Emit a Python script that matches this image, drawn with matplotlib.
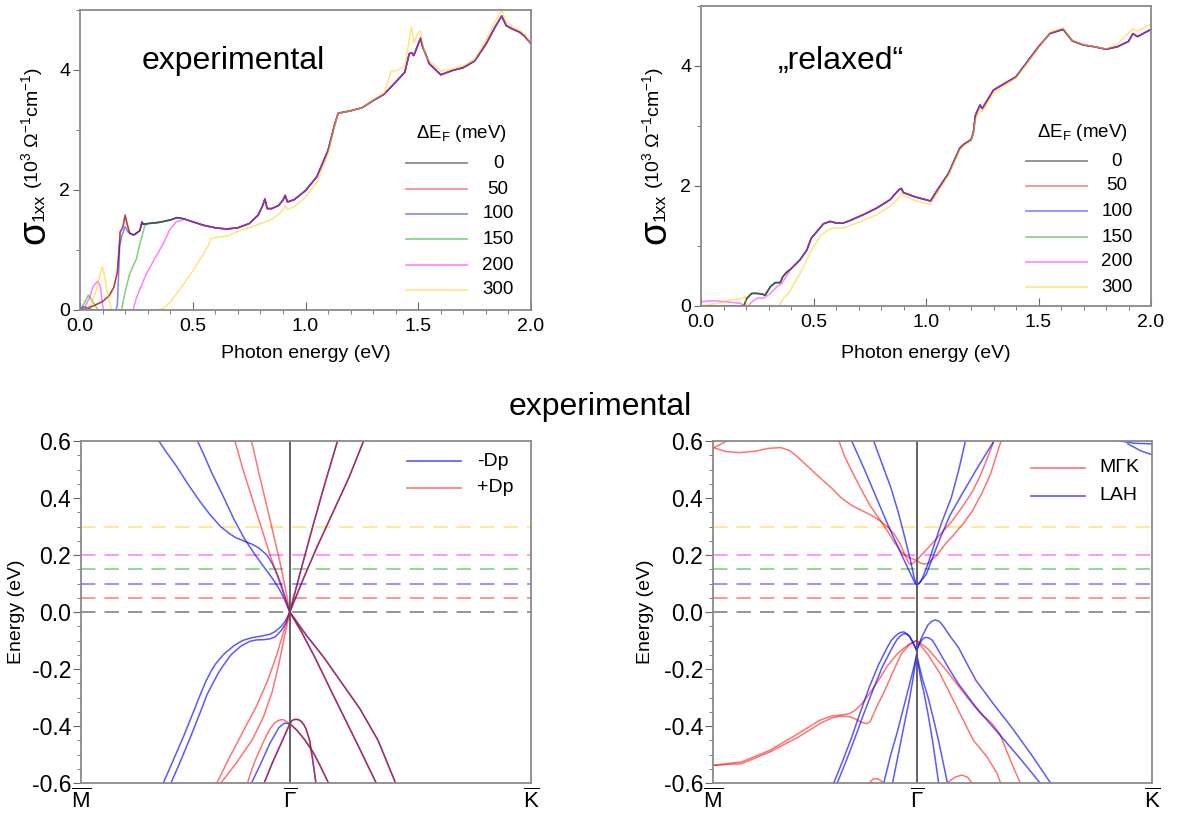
import matplotlib
matplotlib.use('Agg')
import matplotlib.pyplot as plt
from matplotlib.lines import Line2D
from matplotlib.ticker import MultipleLocator

plt.rcParams['font.family'] = ['Liberation Sans', 'DejaVu Sans']
plt.rcParams['mathtext.fontset'] = 'custom'
plt.rcParams['mathtext.rm'] = 'Liberation Sans'
plt.rcParams['mathtext.it'] = 'Liberation Sans:italic'
plt.rcParams['mathtext.bf'] = 'Liberation Sans:bold'
plt.rcParams['axes.unicode_minus'] = False

W, H = 1179, 816

# ---------------------------------------------------------------- optical conductivity
shift_labels = ['0', '50', '100', '150', '200', '300']
shift_colors = ['black', 'red', 'blue', '#00a000', 'magenta', '#ffc800']
ef_levels = [0.0, 0.05, 0.10, 0.15, 0.20, 0.30]

# experimental structure: shared part above the onsets (0/50/100 meV)
tl_hi_E = [0.30, 0.35, 0.40, 0.43, 0.46, 0.50, 0.55, 0.60, 0.65, 0.70, 0.75, 0.79, 0.81,
           0.82, 0.83, 0.85, 0.88, 0.90, 0.91, 0.92, 0.95, 1.00, 1.05, 1.10, 1.13, 1.145,
           1.20, 1.25, 1.30, 1.35, 1.40, 1.44, 1.46, 1.47, 1.48, 1.50, 1.51, 1.52, 1.55,
           1.60, 1.65, 1.70, 1.75, 1.80, 1.84, 1.87, 1.89, 1.92, 1.95, 1.97, 2.00]
tl_hi_s = [1.44, 1.46, 1.50, 1.54, 1.52, 1.47, 1.41, 1.37, 1.35, 1.37, 1.44, 1.58, 1.74,
           1.85, 1.69, 1.69, 1.74, 1.83, 1.91, 1.80, 1.84, 1.99, 2.22, 2.66, 3.10, 3.28,
           3.32, 3.37, 3.49, 3.60, 3.80, 3.96, 4.27, 4.29, 4.24, 4.43, 4.53, 4.38, 4.10,
           3.92, 3.99, 4.04, 4.15, 4.43, 4.71, 4.90, 4.74, 4.68, 4.63, 4.57, 4.44]
# low-energy onsets
tl_lo0_E = [0.00, 0.03, 0.06, 0.10, 0.13, 0.15, 0.165, 0.172, 0.178, 0.19, 0.20, 0.21,
            0.22, 0.24, 0.265, 0.275, 0.28]
tl_lo0_s = [0.0, 0.03, 0.07, 0.14, 0.24, 0.38, 0.62, 0.95, 1.30, 1.38, 1.58, 1.42,
            1.28, 1.25, 1.32, 1.47, 1.43]
tl_lo100_E = [0.00, 0.015, 0.03, 0.06, 0.16, 0.166, 0.176, 0.184, 0.20, 0.213, 0.235,
              0.265, 0.275, 0.28]
tl_lo100_s = [0.0, 0.06, 0.04, 0.0, 0.0, 0.1, 1.05, 1.22, 1.39, 1.30, 1.25, 1.32, 1.46, 1.43]
tl_lo150_E = [0.00, 0.02, 0.037, 0.06, 0.08, 0.184, 0.20, 0.22, 0.25, 0.265, 0.28, 0.287]
tl_lo150_s = [0.0, 0.12, 0.25, 0.12, 0.0, 0.0, 0.3, 0.6, 0.85, 1.1, 1.3, 1.4]
tl_lo200_E = [0.00, 0.022, 0.044, 0.059, 0.078, 0.091, 0.099, 0.105, 0.235, 0.25, 0.294,
              0.338, 0.368, 0.397, 0.426, 0.456]
tl_lo200_s = [0.0, 0.05, 0.22, 0.40, 0.48, 0.39, 0.1, 0.0, 0.0, 0.2, 0.6, 0.9, 1.1, 1.33,
              1.47, 1.50]
tl_300_E = [0.00, 0.03, 0.05, 0.07, 0.09, 0.10, 0.11, 0.12, 0.14, 0.34, 0.37, 0.40, 0.45,
            0.50, 0.55, 0.57, 0.58, 0.60, 0.65, 0.70, 0.75, 0.80, 0.85, 0.88, 0.90, 0.91,
            0.92, 0.95, 1.00, 1.05, 1.10, 1.13, 1.145, 1.20, 1.25, 1.30, 1.35, 1.38, 1.40,
            1.44, 1.46, 1.47, 1.48, 1.50, 1.51, 1.53, 1.55, 1.60, 1.65, 1.70, 1.75, 1.80,
            1.84, 1.87, 1.89, 1.92, 1.95, 1.97, 2.00]
tl_300_s = [0.0, 0.02, 0.1, 0.3, 0.6, 0.72, 0.55, 0.3, 0.0, 0.0, 0.03, 0.13, 0.38,
            0.65, 0.95, 1.08, 1.19, 1.21, 1.23, 1.31, 1.37, 1.44, 1.51, 1.59, 1.67, 1.74,
            1.68, 1.72, 1.88, 2.12, 2.60, 3.08, 3.28, 3.32, 3.37, 3.50, 3.62, 3.98, 3.99,
            4.05, 4.50, 4.72, 4.45, 4.62, 4.65, 4.25, 4.15, 3.98, 4.02, 4.07, 4.18, 4.50,
            4.80, 5.00, 4.80, 4.72, 4.66, 4.60, 4.45]

# relaxed structure
tr_hi_E = [0.40, 0.44, 0.47, 0.49, 0.515, 0.544, 0.574, 0.604, 0.63, 0.66, 0.72, 0.78,
           0.84, 0.88, 0.89, 0.90, 0.95, 1.00, 1.02, 1.05, 1.10, 1.15, 1.17, 1.20, 1.21,
           1.22, 1.24, 1.25, 1.30, 1.35, 1.40, 1.45, 1.50, 1.55, 1.60, 1.61, 1.65, 1.70,
           1.75, 1.80, 1.85, 1.90, 1.92, 1.94, 2.00]
tr_hi_s = [0.62, 0.77, 0.93, 1.13, 1.24, 1.37, 1.41, 1.38, 1.38, 1.42, 1.52, 1.63, 1.77,
           1.94, 1.96, 1.89, 1.82, 1.77, 1.75, 1.93, 2.21, 2.63, 2.70, 2.77, 2.88, 3.18,
           3.35, 3.29, 3.60, 3.71, 3.82, 4.07, 4.32, 4.54, 4.60, 4.61, 4.42, 4.35, 4.32,
           4.28, 4.32, 4.41, 4.54, 4.49, 4.61]
tr_lo0_E = [0.0, 0.19, 0.204, 0.226, 0.248, 0.27, 0.285, 0.308, 0.33, 0.352, 0.364, 0.38]
tr_lo0_s = [0.0, 0.0, 0.13, 0.21, 0.21, 0.20, 0.18, 0.32, 0.39, 0.39, 0.49, 0.56]
tr_lo200_E = [0.0, 0.056, 0.175, 0.19, 0.21, 0.226, 0.25, 0.278, 0.308, 0.337, 0.36, 0.38]
tr_lo200_s = [0.07, 0.09, 0.045, 0.0, 0.0, 0.07, 0.13, 0.13, 0.21, 0.32, 0.38, 0.50]
tr_300_E = [0.0, 0.07, 0.13, 0.19, 0.195, 0.204, 0.345, 0.367, 0.39, 0.41, 0.44, 0.47,
            0.50, 0.53, 0.56, 0.59, 0.633, 0.69, 0.78, 0.84, 0.88, 0.89, 0.90, 0.95, 1.00,
            1.02, 1.05, 1.10, 1.15, 1.17, 1.20, 1.21, 1.22, 1.24, 1.25, 1.30, 1.35, 1.40,
            1.45, 1.50, 1.55, 1.60, 1.61, 1.65, 1.70, 1.75, 1.80, 1.85, 1.88, 1.92, 1.94, 2.00]
tr_300_s = [0.0, 0.045, 0.10, 0.13, 0.16, 0.0, 0.0, 0.13, 0.21, 0.35, 0.54, 0.77, 0.99,
            1.16, 1.26, 1.30, 1.30, 1.38, 1.52, 1.66, 1.80, 1.88, 1.84, 1.76, 1.71, 1.70,
            1.88, 2.18, 2.60, 2.68, 2.75, 2.85, 3.10, 3.27, 3.24, 3.55, 3.68, 3.80, 4.05,
            4.30, 4.56, 4.63, 4.63, 4.43, 4.36, 4.32, 4.29, 4.36, 4.48, 4.62, 4.58, 4.70]

# ---------------------------------------------------------------- band structures
kpath_ticks = [0.0, 0.464, 1.0]
kpath_labels = [r'$\overline{\rm M}$', r'$\overline{\Gamma}$', r'$\overline{\rm K}$']

# experimental: -Dp only, +Dp only, and bands where both coincide
bl_minus = [
    ([0.259, 0.275, 0.29, 0.316, 0.34, 0.364, 0.385, 0.40, 0.415, 0.427, 0.44, 0.45, 0.464],
     [0.6, 0.545, 0.49, 0.406, 0.325, 0.255, 0.205, 0.172, 0.14, 0.114, 0.082, 0.052, 0.0]),
    ([0.173, 0.19, 0.212, 0.235, 0.261, 0.285, 0.31, 0.33, 0.345, 0.364, 0.38, 0.395, 0.413,
      0.425, 0.435, 0.445, 0.453, 0.464],
     [0.6, 0.56, 0.512, 0.455, 0.395, 0.345, 0.30, 0.275, 0.26, 0.248, 0.238, 0.225, 0.2,
      0.17, 0.137, 0.095, 0.055, 0.0]),
    ([0.183, 0.205, 0.228, 0.25, 0.265, 0.277, 0.29, 0.30, 0.318, 0.34, 0.359, 0.38, 0.399,
      0.42, 0.432, 0.445, 0.455, 0.464],
     [-0.6, -0.52, -0.436, -0.35, -0.29, -0.245, -0.205, -0.18, -0.147, -0.118, -0.10,
      -0.09, -0.085, -0.078, -0.068, -0.05, -0.03, 0.0]),
    ([0.2, 0.222, 0.244, 0.268, 0.28, 0.293, 0.305, 0.315, 0.334, 0.355, 0.375, 0.39, 0.407,
      0.42, 0.432, 0.445, 0.455, 0.464],
     [-0.6, -0.52, -0.436, -0.34, -0.29, -0.25, -0.215, -0.19, -0.149, -0.12, -0.103,
      -0.098, -0.097, -0.094, -0.087, -0.065, -0.04, 0.0]),
    ([0.379, 0.40, 0.42, 0.44, 0.452, 0.464],
     [-0.6, -0.53, -0.46, -0.405, -0.39, -0.392]),
]
bl_plus = [
    ([0.342, 0.36, 0.38, 0.40, 0.42, 0.44, 0.464], [0.6, 0.50, 0.40, 0.30, 0.20, 0.11, 0.0]),
    ([0.379, 0.395, 0.41, 0.425, 0.44, 0.452, 0.464], [0.6, 0.49, 0.39, 0.29, 0.19, 0.10, 0.0]),
    ([0.464, 0.45, 0.435, 0.415, 0.39, 0.36, 0.33, 0.302],
     [0.0, -0.07, -0.15, -0.24, -0.33, -0.42, -0.51, -0.6]),
    ([0.464, 0.453, 0.44, 0.425, 0.405, 0.38, 0.345, 0.311],
     [0.0, -0.08, -0.18, -0.28, -0.37, -0.45, -0.53, -0.6]),
    ([0.37, 0.38, 0.39, 0.40, 0.41, 0.42, 0.43, 0.437, 0.444, 0.45, 0.455, 0.464],
     [-0.6, -0.55, -0.51, -0.475, -0.44, -0.41, -0.39, -0.382, -0.378, -0.378, -0.383, -0.392]),
]
bl_both = [
    ([0.407, 0.425, 0.445, 0.464], [-0.6, -0.53, -0.46, -0.392]),
    ([0.464, 0.467, 0.47, 0.475, 0.481, 0.486, 0.49, 0.495, 0.50, 0.508, 0.515, 0.522],
     [-0.392, -0.385, -0.38, -0.377, -0.377, -0.38, -0.385, -0.395, -0.41, -0.45, -0.52, -0.6]),
    ([0.464, 0.48, 0.497, 0.515, 0.53, 0.55], [-0.392, -0.415, -0.448, -0.49, -0.535, -0.6]),
    ([0.464, 0.49, 0.515, 0.54, 0.57], [0.0, 0.155, 0.30, 0.44, 0.6]),
    ([0.464, 0.495, 0.525, 0.56, 0.595, 0.628], [0.0, 0.12, 0.23, 0.35, 0.47, 0.6]),
    ([0.464, 0.49, 0.52, 0.56, 0.61, 0.656], [0.0, -0.07, -0.16, -0.29, -0.45, -0.6]),
    ([0.464, 0.50, 0.54, 0.58, 0.62, 0.66, 0.699], [0.0, -0.08, -0.16, -0.25, -0.34, -0.45, -0.6]),
]

# bulk projection: M-Gamma-K plane and L-A-H plane
br_mgk = [
    ([0.0, 0.015, 0.032], [0.575, 0.587, 0.6]),
    ([0.0, 0.03, 0.06, 0.10, 0.125, 0.154, 0.175, 0.194, 0.22, 0.243, 0.27, 0.291, 0.315,
      0.34, 0.36, 0.381, 0.398, 0.413, 0.426, 0.437, 0.443, 0.448, 0.455, 0.464, 0.475,
      0.49, 0.518, 0.545, 0.567, 0.59, 0.607, 0.625, 0.64],
     [0.577, 0.563, 0.559, 0.565, 0.574, 0.577, 0.566, 0.542, 0.505, 0.472, 0.435, 0.402,
      0.375, 0.355, 0.34, 0.32, 0.298, 0.273, 0.24, 0.2, 0.18, 0.168, 0.17, 0.182, 0.2,
      0.225, 0.273, 0.32, 0.367, 0.42, 0.472, 0.54, 0.6]),
    ([0.287, 0.30, 0.316, 0.336, 0.356, 0.377, 0.397, 0.413, 0.429, 0.447, 0.464, 0.472,
      0.48, 0.49, 0.51, 0.53, 0.543, 0.57, 0.591, 0.612, 0.632, 0.656],
     [0.6, 0.545, 0.495, 0.435, 0.378, 0.33, 0.285, 0.245, 0.21, 0.19, 0.182, 0.172, 0.168,
      0.17, 0.2, 0.24, 0.261, 0.31, 0.355, 0.415, 0.483, 0.6]),
    ([0.0, 0.065, 0.13, 0.194, 0.243, 0.27, 0.291, 0.31, 0.324, 0.34, 0.356, 0.377, 0.397,
      0.418, 0.437, 0.45, 0.464],
     [-0.538, -0.526, -0.485, -0.427, -0.38, -0.365, -0.362, -0.357, -0.345, -0.32, -0.287,
      -0.24, -0.19, -0.15, -0.124, -0.11, -0.10]),
    ([0.0, 0.065, 0.13, 0.194, 0.243, 0.27, 0.291, 0.31, 0.324, 0.338, 0.35, 0.358, 0.365,
      0.377, 0.389, 0.41, 0.429, 0.447, 0.464],
     [-0.538, -0.532, -0.491, -0.439, -0.392, -0.372, -0.365, -0.367, -0.375, -0.387,
      -0.392, -0.385, -0.36, -0.32, -0.283, -0.21, -0.147, -0.115, -0.10]),
    ([0.464, 0.49, 0.532, 0.578, 0.609, 0.635, 0.654, 0.68, 0.70],
     [-0.10, -0.13, -0.205, -0.298, -0.356, -0.39, -0.43, -0.53, -0.6]),
    ([0.464, 0.49, 0.517, 0.555, 0.593, 0.624, 0.647, 0.655],
     [-0.10, -0.15, -0.216, -0.333, -0.45, -0.508, -0.566, -0.6]),
    ([0.356, 0.365, 0.375, 0.39], [-0.6, -0.585, -0.585, -0.6]),
    ([0.534, 0.55, 0.567, 0.58, 0.59], [-0.6, -0.58, -0.572, -0.58, -0.6]),
]
br_lah = [
    ([0.316, 0.345, 0.372, 0.40, 0.429, 0.445, 0.455, 0.46, 0.464],
     [0.6, 0.50, 0.402, 0.30, 0.203, 0.15, 0.118, 0.102, 0.095]),
    ([0.366, 0.385, 0.405, 0.422, 0.437, 0.45, 0.458, 0.464],
     [0.6, 0.52, 0.437, 0.35, 0.261, 0.18, 0.122, 0.095]),
    ([0.464, 0.47, 0.478, 0.49, 0.502, 0.52, 0.543, 0.56, 0.575],
     [0.095, 0.10, 0.122, 0.17, 0.227, 0.31, 0.402, 0.50, 0.6]),
    ([0.464, 0.472, 0.486, 0.50, 0.518, 0.54, 0.567, 0.60, 0.64],
     [0.095, 0.105, 0.133, 0.19, 0.261, 0.34, 0.413, 0.50, 0.6]),
    ([0.927, 0.96, 1.0], [0.6, 0.592, 0.59]),
    ([0.945, 0.975, 1.0], [0.59, 0.565, 0.552]),
    ([0.275, 0.296, 0.316, 0.336, 0.356, 0.377, 0.397, 0.406, 0.415, 0.422, 0.429, 0.435,
      0.44, 0.445, 0.449, 0.455, 0.464],
     [-0.6, -0.52, -0.439, -0.35, -0.264, -0.185, -0.124, -0.1, -0.085, -0.076, -0.071,
      -0.07, -0.075, -0.082, -0.089, -0.105, -0.135]),
    ([0.283, 0.304, 0.324, 0.344, 0.364, 0.385, 0.405, 0.413, 0.42, 0.427, 0.433, 0.439,
      0.445, 0.449, 0.453, 0.458, 0.464],
     [-0.6, -0.52, -0.439, -0.355, -0.275, -0.195, -0.135, -0.112, -0.095, -0.084, -0.077,
      -0.076, -0.08, -0.088, -0.10, -0.115, -0.135]),
    ([0.464, 0.47, 0.475, 0.48, 0.486, 0.493, 0.50, 0.508, 0.518, 0.538, 0.559, 0.58, 0.599,
      0.63, 0.664, 0.70, 0.745],
     [-0.135, -0.112, -0.10, -0.092, -0.089, -0.092, -0.10, -0.12, -0.147, -0.2, -0.252,
      -0.295, -0.334, -0.39, -0.45, -0.515, -0.6]),
    ([0.464, 0.47, 0.475, 0.483, 0.49, 0.498, 0.506, 0.515, 0.525, 0.54, 0.559, 0.578,
      0.599, 0.64, 0.68, 0.725, 0.769],
     [-0.135, -0.11, -0.09, -0.065, -0.045, -0.033, -0.028, -0.032, -0.05, -0.085, -0.124,
      -0.18, -0.24, -0.325, -0.404, -0.5, -0.6]),
    ([0.389, 0.405, 0.42, 0.435, 0.45, 0.458, 0.464], [-0.6, -0.5, -0.42, -0.33, -0.24, -0.19, -0.15]),
    ([0.409, 0.422, 0.435, 0.447, 0.455, 0.46, 0.464], [-0.6, -0.5, -0.40, -0.31, -0.24, -0.19, -0.15]),
    ([0.464, 0.468, 0.474, 0.48, 0.49, 0.50, 0.514], [-0.15, -0.19, -0.24, -0.28, -0.36, -0.45, -0.6]),
    ([0.464, 0.47, 0.478, 0.49, 0.503, 0.515, 0.534], [-0.15, -0.19, -0.24, -0.30, -0.38, -0.46, -0.6]),
]


def extend(lo_e, lo_s, hi_e, hi_s):
    """low-energy onset followed by the shared curve above it"""
    e = list(lo_e) + [x for x in hi_e if x > lo_e[-1]]
    s = list(lo_s) + [y for x, y in zip(hi_e, hi_s) if x > lo_e[-1]]
    return e, s


def box(l, t, r, b):
    return [l / W, 1 - b / H, (r - l) / W, (b - t) / H]


def fx(x):
    return x / W


def fy(y):
    return 1 - y / H


def style_spines(ax):
    for s in ax.spines.values():
        s.set_color('#8a8a8a')
        s.set_linewidth(1.3)


def sigma_panel(ax, curves, title, title_x, key_x0, key_ys, label_x, key_title_xy, ylab_x):
    for (e, s), c in zip(curves, shift_colors):
        ax.plot(e, s, color=c, lw=1.1, alpha=0.5)
    ax.set_xlim(0, 2)
    ax.set_ylim(0, 5)
    ax.xaxis.set_major_locator(MultipleLocator(0.5))
    ax.xaxis.set_minor_locator(MultipleLocator(0.1))
    ax.yaxis.set_major_locator(MultipleLocator(2))
    ax.yaxis.set_minor_locator(MultipleLocator(1))
    ax.tick_params(axis='x', which='major', direction='in', length=6, pad=6, labelsize=14,
                   color='#666')
    ax.tick_params(axis='x', which='minor', direction='out', length=3, color='#666')
    ax.tick_params(axis='y', which='major', direction='out', length=5, pad=2, labelsize=14,
                   color='#666')
    ax.tick_params(axis='y', which='minor', direction='out', length=3, color='#666')
    style_spines(ax)
    fig.text(fx(title_x), fy(69), title, fontsize=23, va='baseline', ha='left')
    # key
    fig.text(fx(key_title_xy[0]), fy(key_title_xy[1]), r'ΔE$_{\rm F}$ (meV)', fontsize=13.5,
             va='baseline', ha='left')
    for y, c, lab in zip(key_ys, shift_colors, shift_labels):
        fig.add_artist(Line2D([fx(key_x0), fx(key_x0 + 61)], [fy(y), fy(y)], color=c,
                              lw=1.3, alpha=0.45))
        fig.text(fx(label_x), fy(y), lab, fontsize=13.5, ha='center', va='center')
    # axis labels
    cx = (ax.get_position().x0 + ax.get_position().x1) / 2
    fig.text(cx, fy(354), 'Photon energy (eV)', fontsize=14, ha='center', va='center')
    fig.text(fx(ylab_x + 2), fy(232), 'σ', fontsize=28, rotation=90, ha='center', va='center')
    fig.text(fx(ylab_x + 7), fy(207), '1xx', fontsize=12.5, rotation=90, ha='center',
             va='center')
    fig.text(fx(ylab_x), fy(128), r'(10$^{3}$ Ω$^{-1}$cm$^{-1}$)', fontsize=14, rotation=90,
             ha='center', va='center')


def band_panel(ax, groups, key_rows, key_x0, key_ys, label_x, ylab_x):
    for lev, c in zip(ef_levels, shift_colors):
        ax.axhline(lev, color=c, lw=1.3, alpha=0.45, dashes=(8, 5))
    for bands, c, a in groups:
        for k, e in bands:
            ax.plot(k, e, color=c, lw=1.1, alpha=a)
    ax.axvline(kpath_ticks[1], color='#555555', lw=1.3)
    ax.set_xlim(0, 1)
    ax.set_ylim(-0.6, 0.6)
    ax.set_xticks(kpath_ticks)
    ax.set_xticklabels(kpath_labels)
    ax.set_yticks([-0.6, -0.4, -0.2, 0.0, 0.2, 0.4, 0.6])
    ax.yaxis.set_minor_locator(MultipleLocator(0.05))
    ax.tick_params(axis='x', length=0, pad=4, labelsize=16)
    ax.tick_params(axis='y', which='major', direction='out', length=6, pad=1, labelsize=16.5,
                   color='#666')
    ax.tick_params(axis='y', which='minor', direction='out', length=3, color='#666')
    style_spines(ax)
    for y, (c, a, lab) in zip(key_ys, key_rows):
        fig.add_artist(Line2D([fx(key_x0), fx(key_x0 + 54)], [fy(y), fy(y)], color=c,
                              lw=1.2, alpha=a))
        fig.text(fx(label_x), fy(y), lab, fontsize=14, ha='left', va='center')
    fig.text(fx(ylab_x), fy(612), 'Energy (eV)', fontsize=14, rotation=90,
             ha='center', va='center')


fig = plt.figure(figsize=(W / 100, H / 100), dpi=100)
ax_tl = fig.add_axes(box(80, 10, 531, 310))
ax_tr = fig.add_axes(box(701, 6, 1151, 306))
ax_bl = fig.add_axes(box(81, 441, 531, 783))
ax_br = fig.add_axes(box(713, 441, 1152, 783))

s0 = extend(tl_lo0_E, tl_lo0_s, tl_hi_E, tl_hi_s)
tl_curves = [s0, s0,  # 0 and 50 meV coincide
             extend(tl_lo100_E, tl_lo100_s, tl_hi_E, tl_hi_s),
             extend(tl_lo150_E, tl_lo150_s, tl_hi_E, tl_hi_s),
             extend(tl_lo200_E, tl_lo200_s, tl_hi_E, tl_hi_s),
             (tl_300_E, tl_300_s)]
r0 = extend(tr_lo0_E, tr_lo0_s, tr_hi_E, tr_hi_s)
tr_curves = [r0, r0, r0, r0,
             extend(tr_lo200_E, tr_lo200_s, tr_hi_E, tr_hi_s),
             (tr_300_E, tr_300_s)]

sigma_panel(ax_tl, tl_curves, 'experimental', 142, 406,
            [163, 189, 214, 239, 265, 290], 498, (416, 138), 32)
sigma_panel(ax_tr, tr_curves, '\u201erelaxed\u201c', 778, 1026,
            [161, 186, 211, 237, 262, 287], 1117, (1037, 137), 653)

band_panel(ax_bl, [(bl_minus, 'blue', 0.65), (bl_plus, 'red', 0.55),
                   (bl_both, 'blue', 0.5), (bl_both, '#b01838', 0.8)],
           [('blue', 0.65, '-Dp'), ('red', 0.55, '+Dp')], 407, [461, 488], 477, 17)
band_panel(ax_br, [(br_mgk, 'red', 0.55), (br_lah, 'blue', 0.65)],
           [('red', 0.55, 'M\u0393K'), ('blue', 0.65, 'LAH')], 1031, [468, 496], 1099, 646)

fig.text(fx(600), fy(415), 'experimental', fontsize=23, ha='center', va='baseline')

fig.savefig('out.png', dpi=100)
